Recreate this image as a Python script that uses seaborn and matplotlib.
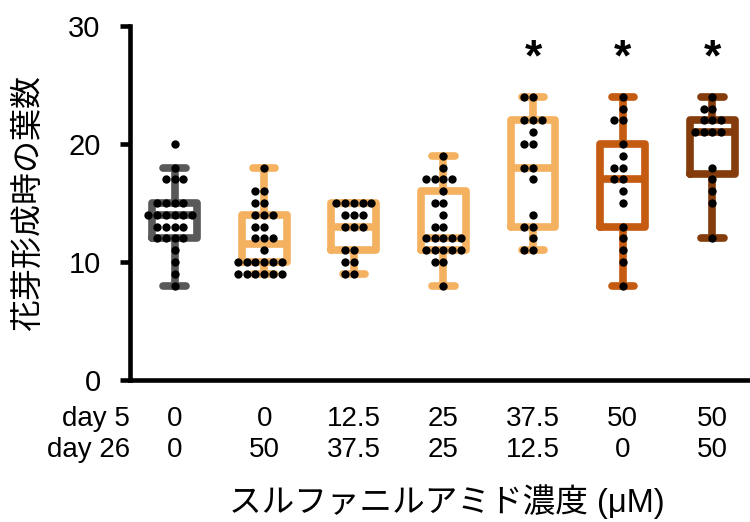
import numpy as np
import pandas as pd
import matplotlib
matplotlib.use("Agg")
import matplotlib.pyplot as plt
import seaborn as sns

# 各処理区の花芽形成時の葉数
g1 = [20, 18, 17, 17, 17, 15, 15, 15, 15, 14, 14, 14, 14, 14, 14,
      13, 13, 13, 13, 12, 12, 12, 12, 11, 10, 9, 8]
g2 = [18, 16, 16, 15, 15, 14, 14, 14, 13, 13, 12, 12, 12, 11,
      10, 10, 10, 10, 10, 10, 9, 9, 9, 9, 9, 9]
g3 = [15, 15, 15, 15, 15, 14, 14, 14, 13, 13, 13, 11, 11, 10, 10, 9, 9]
g4 = [19, 18, 17, 17, 17, 17, 16, 15, 15, 14, 13, 13, 12, 12, 12, 12, 12,
      11, 11, 11, 11, 11, 10, 10, 8]
g5 = [24, 24, 22, 22, 22, 21, 20, 20, 18, 18, 17, 14, 13, 13, 12, 11, 11]
g6 = [24, 23, 22, 22, 20, 19, 18, 18, 17, 17, 16, 15, 13, 12, 11, 10, 8]
g7 = [24, 23, 23, 22, 22, 22, 21, 21, 21, 21, 18, 17, 16, 15, 12]

day5 = ['0', '0', '12.5', '25', '37.5', '50', '50']
day26 = ['0', '50', '37.5', '25', '12.5', '0', '50']
signif = ['', '', '', '', '*', '*', '*']
colors = ['#595959', '#F4B160', '#F4B160', '#F4B160', '#F4B160', '#C55A11', '#843C0C']

groups = [g1, g2, g3, g4, g5, g6, g7]
names = [f'{a}/{b}' for a, b in zip(day5, day26)]
df = pd.DataFrame({
    'group': np.repeat(names, [len(g) for g in groups]),
    'leaves': np.concatenate(groups),
})

sns.set_style('ticks')
plt.rcParams['font.family'] = ['Liberation Sans', 'Noto Sans CJK JP']
for k in ['text.color', 'axes.edgecolor', 'axes.labelcolor', 'xtick.color', 'ytick.color']:
    plt.rcParams[k] = 'black'

fig = plt.figure(figsize=(7.5, 5.22), dpi=100)
ax = fig.add_axes([0.173, 0.272, 0.827, 0.678])

sns.boxplot(data=df, x='group', y='leaves', hue='group', order=names,
            hue_order=names, palette=colors, fill=False, width=0.5,
            linewidth=5.5, showfliers=False, legend=False, ax=ax)
sns.swarmplot(data=df, x='group', y='leaves', order=names, color='black',
              size=6, ax=ax)

ax.set_xlim(-0.5, 6.42)
ax.set_ylim(0, 30)
ax.set_yticks([0, 10, 20, 30])
ax.tick_params(axis='y', labelsize=21, length=7, width=3.3, direction='out', pad=14)
ax.tick_params(axis='x', length=0, labelbottom=False)
sns.despine(ax=ax)
for s in ['left', 'bottom']:
    ax.spines[s].set_linewidth(3.3)
    ax.spines[s].set_capstyle('projecting')

ax.set_xlabel('')
ax.set_ylabel('花芽形成時の葉数', fontsize=23)
ax.yaxis.set_label_coords(-0.138, 0.5)

# 有意差
for i, s in enumerate(signif):
    if s:
        ax.text(i, 27.2, s, ha='center', va='center', fontsize=32, fontweight='bold')

# 処理濃度の表
trans = matplotlib.transforms.blended_transform_factory(ax.transData, fig.transFigure)
y5 = 1 - 419 / 522
y26 = 1 - 450 / 522
fig.text(130 / 750, y5, 'day 5', ha='right', va='center', fontsize=20)
fig.text(130 / 750, y26, 'day 26', ha='right', va='center', fontsize=20)
for i in range(len(names)):
    ax.text(i, y5, day5[i], transform=trans, ha='center', va='center', fontsize=20)
    ax.text(i, y26, day26[i], transform=trans, ha='center', va='center', fontsize=20)

fig.text(447 / 750, 1 - 502 / 522, 'スルファニルアミド濃度 (μM)', ha='center',
         va='center', fontsize=23.5)

fig.savefig('out.png', dpi=100)
